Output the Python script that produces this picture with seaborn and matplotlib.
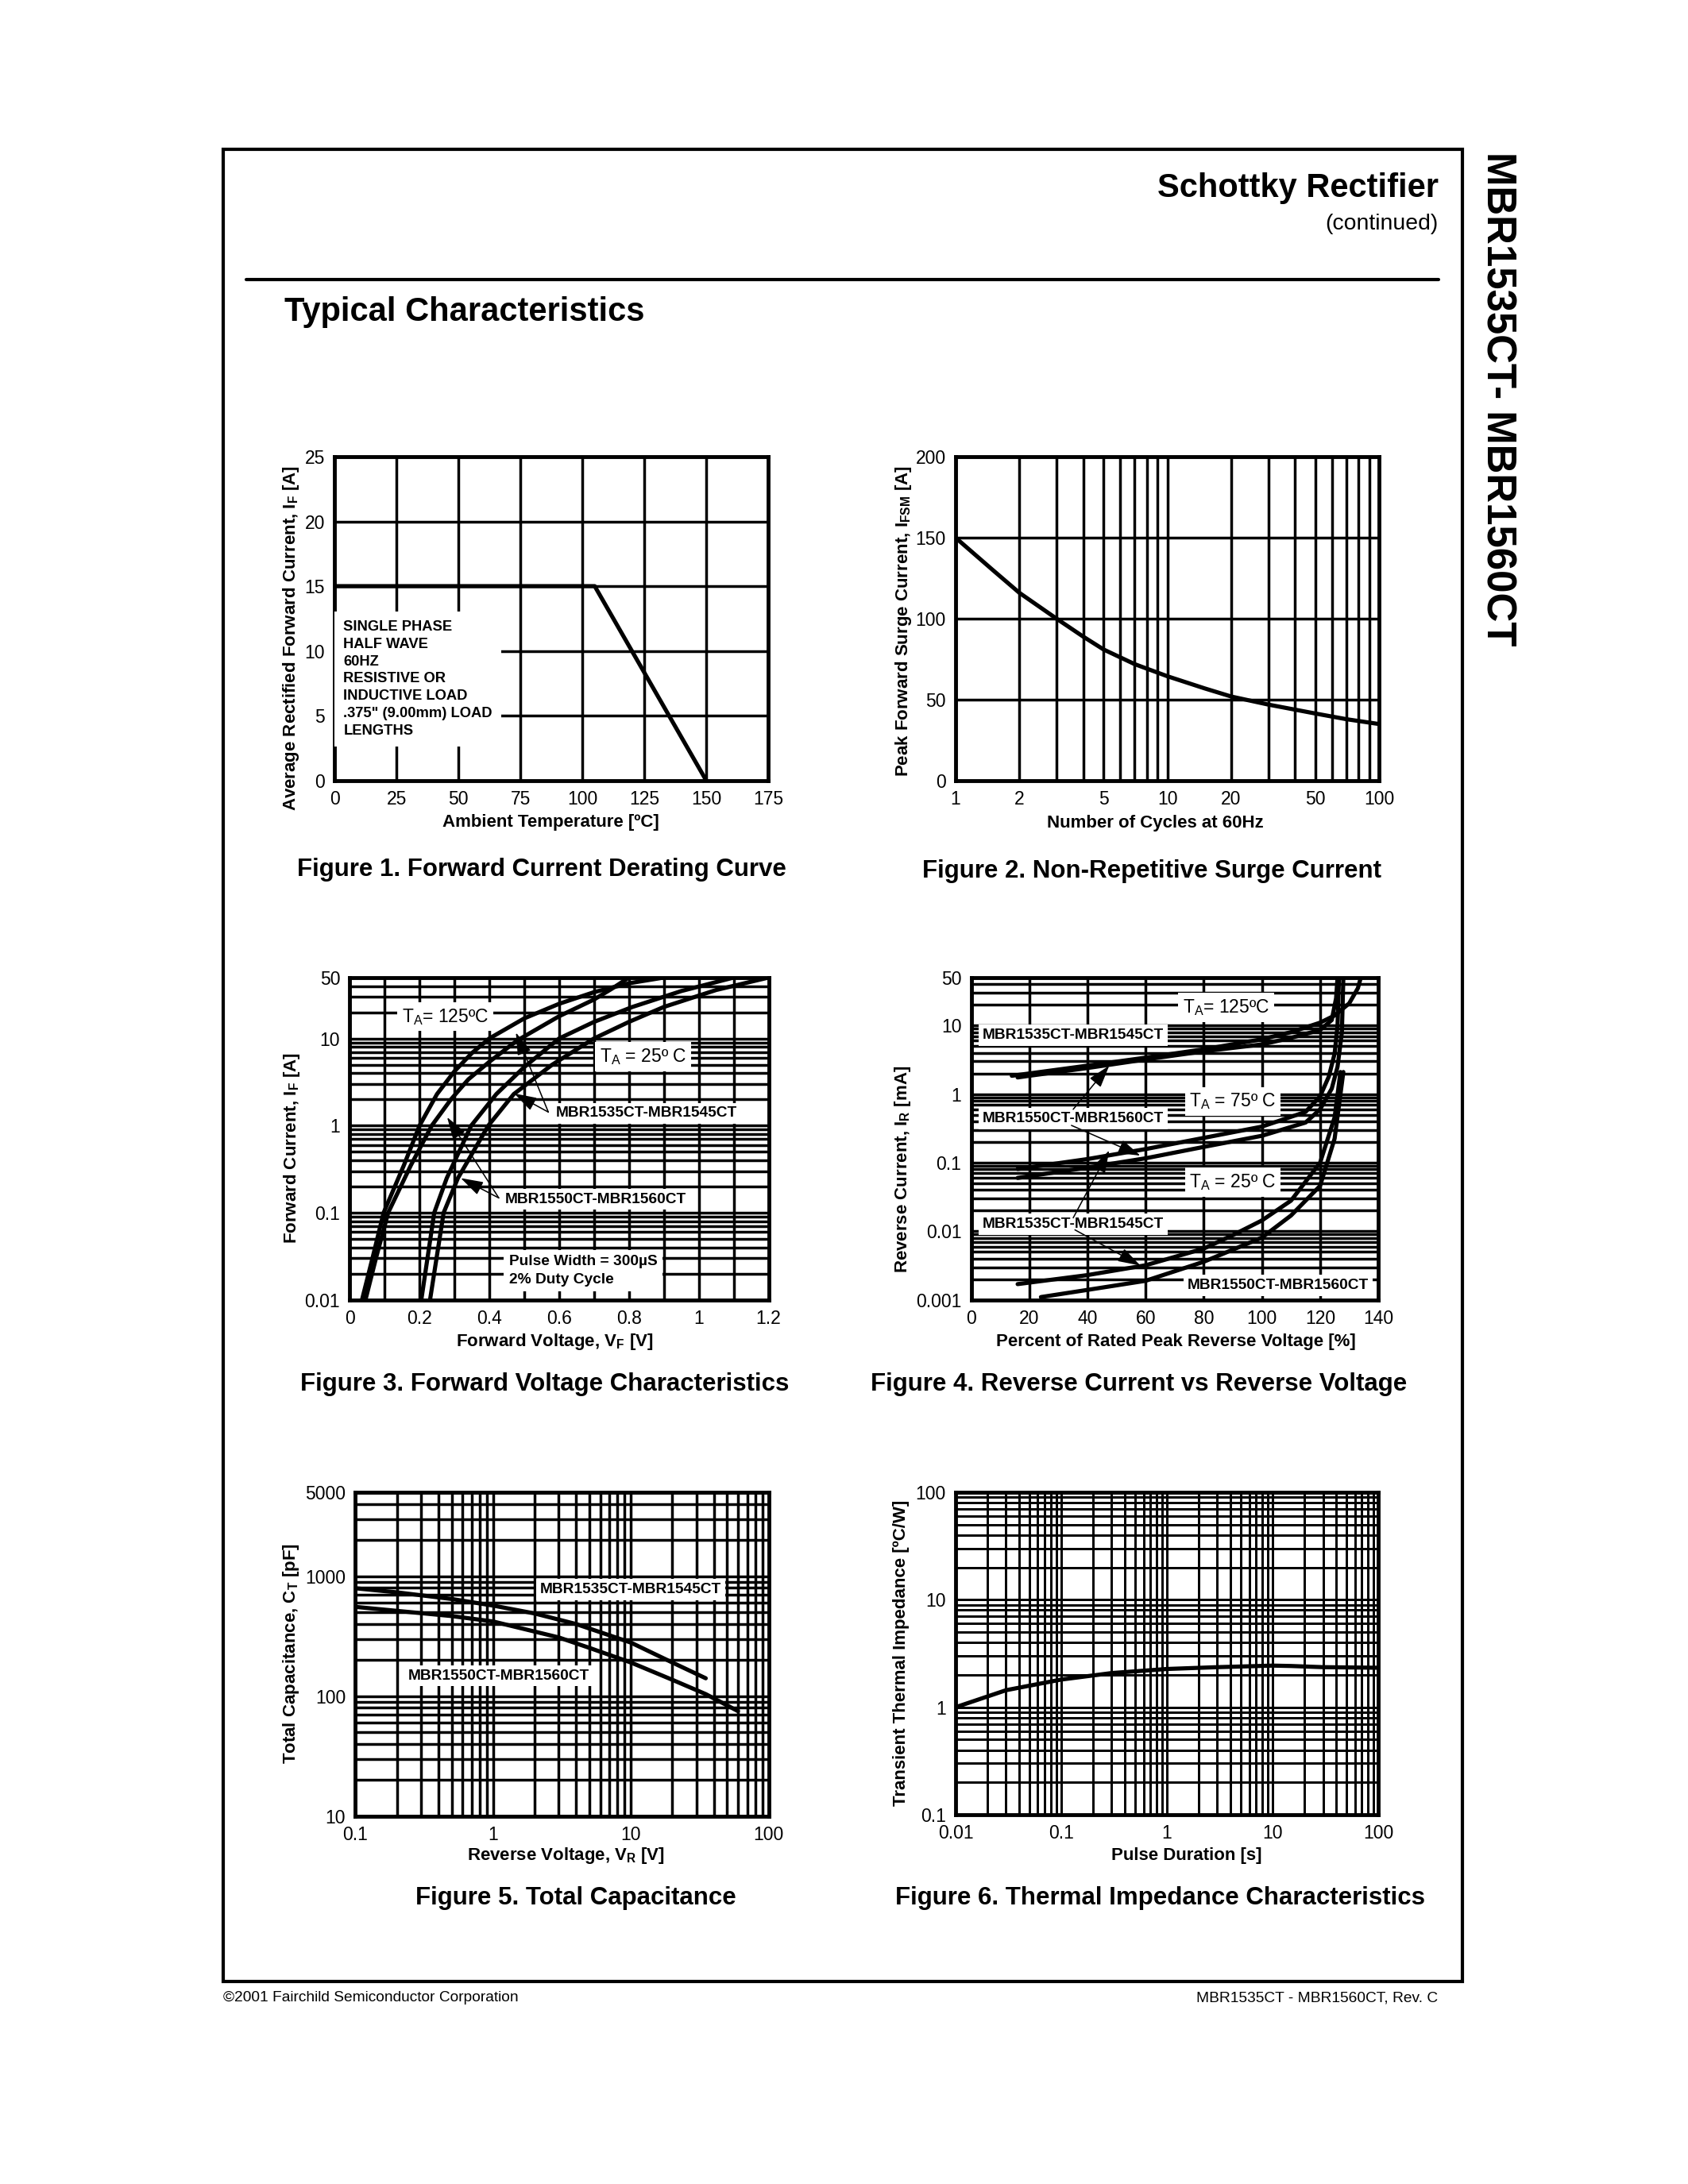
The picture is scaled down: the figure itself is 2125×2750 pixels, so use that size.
import numpy as np
import pandas as pd
import seaborn as sns
import matplotlib.pyplot as plt
from matplotlib.patches import Rectangle
from matplotlib.lines import Line2D
from matplotlib.ticker import NullFormatter

# ---- Figure 1: forward current derating
derate_temp = [0, 105, 150]
derate_amps = [15, 15, 0]

# ---- Figure 2: non-repetitive surge current
surge_cycles = [1, 1.5, 2, 3, 4, 5, 7, 10, 15, 20, 30, 50, 70, 100]
surge_amps = [150, 130, 116, 100, 89, 81, 72, 64.5, 57, 52, 47, 41.5, 38, 35]

# ---- Figure 3: forward voltage (V, A)
fv_125_a_v = [0.035, 0.065, 0.097, 0.155, 0.20, 0.25, 0.30, 0.35, 0.40, 0.50, 0.60, 0.70, 0.80, 0.90]
fv_125_a_i = [0.01, 0.03, 0.1, 0.35, 1.0, 2.3, 4.2, 6.8, 10, 17, 25, 34, 43, 50]
fv_125_b_v = [0.045, 0.075, 0.11, 0.175, 0.235, 0.29, 0.34, 0.40, 0.48, 0.60, 0.70, 0.75, 0.80]
fv_125_b_i = [0.01, 0.03, 0.1, 0.35, 1.0, 2.0, 3.4, 5.4, 9.5, 18, 28, 37, 50]
fv_25_a_v = [0.205, 0.242, 0.278, 0.348, 0.42, 0.50, 0.60, 0.70, 0.81, 0.95, 1.10]
fv_25_a_i = [0.01, 0.1, 0.25, 1.0, 2.3, 4.7, 10, 15.5, 23, 35, 50]
fv_25_b_v = [0.23, 0.269, 0.31, 0.397, 0.47, 0.58, 0.70, 0.80, 0.90, 1.05, 1.20]
fv_25_b_i = [0.01, 0.1, 0.25, 1.0, 2.3, 5.0, 10, 15.5, 23, 36, 50]

# ---- Figure 4: reverse current (% rated voltage, mA)
rc_125_a_x = [14, 20, 40, 60, 80, 100, 110, 120, 125, 130, 133, 134]
rc_125_a_y = [1.85, 2.0, 2.6, 3.4, 4.5, 6.3, 8.0, 11, 14, 21, 35, 50]
rc_125_b_x = [16, 20, 40, 60, 80, 100, 110, 120, 124, 125.5, 126]
rc_125_b_y = [1.75, 1.85, 2.4, 3.2, 4.2, 5.3, 6.6, 8.6, 12, 25, 50]
rc_75_a_x = [16, 40, 60, 80, 100, 115, 120, 123, 125, 126, 126.5]
rc_75_a_y = [0.081, 0.113, 0.158, 0.23, 0.336, 0.55, 0.93, 1.8, 3.9, 10, 50]
rc_75_b_x = [16, 40, 60, 80, 100, 115, 120, 124, 126, 127.5, 128]
rc_75_b_y = [0.06, 0.085, 0.116, 0.17, 0.247, 0.385, 0.6, 1.2, 2.5, 8, 50]
rc_25_a_x = [16, 40, 60, 80, 90, 100, 110, 120, 125, 127]
rc_25_a_y = [0.0017, 0.0023, 0.0032, 0.0056, 0.0088, 0.0144, 0.028, 0.10, 0.46, 2.1]
rc_25_b_x = [24, 40, 60, 80, 100, 110, 120, 125, 128]
rc_25_b_y = [0.0011, 0.0014, 0.0019, 0.0036, 0.0081, 0.017, 0.046, 0.225, 2.1]

# ---- Figure 5: total capacitance (V, pF)
cap_a_v = [0.1, 0.2, 0.5, 1, 2, 4, 10, 20, 35]
cap_a_pf = [795, 735, 647, 570, 490, 400, 280, 191, 141]
cap_b_v = [0.1, 0.2, 0.5, 1, 3, 5, 10, 20, 35, 60]
cap_b_pf = [556, 515, 466, 420, 309, 253, 191, 137, 104, 75]

# ---- Figure 6: transient thermal impedance (s, C/W)
zth_t = [0.01, 0.03, 0.1, 0.3, 1, 3, 10, 15, 30, 100]
zth_z = [1.0, 1.44, 1.81, 2.08, 2.27, 2.36, 2.44, 2.42, 2.36, 2.33]

captions = [
    "Figure 1. Forward Current Derating Curve",
    "Figure 2. Non-Repetitive Surge Current",
    "Figure 3. Forward Voltage Characteristics",
    "Figure 4. Reverse Current vs Reverse Voltage",
    "Figure 5. Total Capacitance",
    "Figure 6. Thermal Impedance Characteristics",
]

sns.set_style("white", rc={"axes.edgecolor": "black", "text.color": "black",
                           "axes.labelcolor": "black", "xtick.color": "black",
                           "ytick.color": "black"})
plt.rcParams["font.family"] = ["Liberation Sans", "DejaVu Sans"]
plt.rcParams["mathtext.fontset"] = "custom"
plt.rcParams["mathtext.rm"] = "Liberation Sans"
plt.rcParams["mathtext.bf"] = "Liberation Sans:bold"
plt.rcParams["mathtext.it"] = "Liberation Sans:italic"

fig = plt.figure(figsize=(8.5, 11), dpi=250)

TICK_FS = 6.6
LABEL_FS = 6.4
NOTE_FS = 5.5
box = dict(boxstyle="square,pad=0.25", fc="white", ec="none")
arrow = dict(arrowstyle="-|>,head_length=0.7,head_width=0.22", color="black",
             lw=0.45, shrinkA=0, shrinkB=0, mutation_scale=10)


def setup(ax, xlim, ylim, xmaj, xlab, ymaj, ylab, xmin=None, ymin=None,
          xlog=False, ylog=False, grid_lw=1.0):
    if xlog:
        ax.set_xscale("log")
    if ylog:
        ax.set_yscale("log")
    ax.set_xlim(*xlim)
    ax.set_ylim(*ylim)
    ax.set_xticks(xmaj, labels=xlab)
    ax.set_yticks(ymaj, labels=ylab)
    ax.set_xticks(xmin if xmin else [], minor=True)
    ax.set_yticks(ymin if ymin else [], minor=True)
    ax.xaxis.set_minor_formatter(NullFormatter())
    ax.yaxis.set_minor_formatter(NullFormatter())
    ax.set_xlim(*xlim)
    ax.set_ylim(*ylim)
    ax.tick_params(which="both", length=0, pad=3.5, labelsize=TICK_FS)
    ax.grid(True, which="both", color="black", lw=grid_lw)
    ax.set_axisbelow(True)
    for s in ax.spines.values():
        s.set_linewidth(1.4)
        s.set_color("black")


def labels(ax, xl, yl, xpos, ypos):
    ax.set_xlabel(xl, fontsize=LABEL_FS, fontweight="bold", va="center")
    ax.set_ylabel(yl, fontsize=LABEL_FS, fontweight="bold", va="center", ha="center")
    ax.xaxis.set_label_coords(*xpos)
    ax.yaxis.set_label_coords(*ypos)


def curve(ax, x, y, lw=1.5):
    sns.lineplot(x=x, y=y, ax=ax, color="black", linewidth=lw,
                 estimator=None, sort=False, zorder=4)


def decade_minor(lo_exp, hi_exp, top=None):
    vals = []
    for e in range(lo_exp, hi_exp):
        for m in range(2, 10):
            v = m * 10.0 ** e
            if top is None or v < top:
                vals.append(v)
    return vals


# ---------------- Figure 1
ax1 = fig.add_axes([0.1983, 0.6427, 0.2567, 0.1482])
setup(ax1, (0, 175), (0, 25), list(range(0, 176, 25)),
      [str(v) for v in range(0, 176, 25)], list(range(0, 26, 5)),
      [str(v) for v in range(0, 26, 5)])
curve(ax1, derate_temp, derate_amps, lw=1.5)
ax1.text(3.5, 7.83, "SINGLE PHASE\nHALF WAVE\n60HZ\nRESISTIVE OR\nINDUCTIVE LOAD\n"
         ".375\" (9.00mm) LOAD\nLENGTHS", ha="left", va="center", fontsize=5.3,
         fontweight="bold", linespacing=1.37,
         bbox=dict(boxstyle="square,pad=0.6", fc="white", ec="none"))
labels(ax1, "Ambient Temperature [ºC]",
       r"Average Rectified Forward Current, I$\mathbf{_F}$ [A]",
       (0.498, -0.131), (-0.0998, 0.44))

# ---------------- Figure 2
ax2 = fig.add_axes([0.5661, 0.6425, 0.2510, 0.1484])
setup(ax2, (1, 100), (0, 200), [1, 2, 5, 10, 20, 50, 100],
      ["1", "2", "5", "10", "20", "50", "100"], [0, 50, 100, 150, 200],
      ["0", "50", "100", "150", "200"],
      xmin=[3, 4, 6, 7, 8, 9, 30, 40, 60, 70, 80, 90], xlog=True)
curve(ax2, surge_cycles, surge_amps, lw=1.5)
labels(ax2, "Number of Cycles at 60Hz",
       r"Peak Forward Surge Current, I$\mathbf{_{FSM}}$ [A]",
       (0.472, -0.13), (-0.122, 0.493))

# ---------------- Figure 3
ax3 = fig.add_axes([0.2072, 0.4048, 0.2481, 0.1476])
setup(ax3, (0, 1.2), (0.01, 50), [0, 0.2, 0.4, 0.6, 0.8, 1.0, 1.2],
      ["0", "0.2", "0.4", "0.6", "0.8", "1", "1.2"],
      [0.01, 0.1, 1, 10, 50], ["0.01", "0.1", "1", "10", "50"],
      xmin=[0.1, 0.3, 0.5, 0.7, 0.9, 1.1],
      ymin=decade_minor(-2, 1) + [20, 30, 40], ylog=True)
curve(ax3, fv_125_a_v, fv_125_a_i)
curve(ax3, fv_125_b_v, fv_125_b_i)
curve(ax3, fv_25_a_v, fv_25_a_i)
curve(ax3, fv_25_b_v, fv_25_b_i)
ax3.text(0.274, 17.8, r"$\mathrm{T_A}$= 125ºC", ha="center", va="center",
         fontsize=TICK_FS, bbox=box)
ax3.text(0.84, 6.2, r"$\mathrm{T_A}$ = 25º C", ha="center", va="center",
         fontsize=TICK_FS, bbox=box)
ax3.text(0.85, 1.38, "MBR1535CT-MBR1545CT", ha="center", va="center",
         fontsize=NOTE_FS, fontweight="bold", bbox=box)
ax3.text(0.705, 0.143, "MBR1550CT-MBR1560CT", ha="center", va="center",
         fontsize=NOTE_FS, fontweight="bold", bbox=box)
ax3.annotate("", xy=(0.476, 11.7), xytext=(0.569, 1.43), arrowprops=arrow)
ax3.annotate("", xy=(0.471, 2.34), xytext=(0.569, 1.43), arrowprops=arrow)
ax3.annotate("", xy=(0.279, 1.25), xytext=(0.427, 0.148), arrowprops=arrow)
ax3.annotate("", xy=(0.318, 0.25), xytext=(0.427, 0.148), arrowprops=arrow)
ax3.text(0.456, 0.0216, "Pulse Width = 300µS\n2% Duty Cycle", ha="left",
         va="center", fontsize=NOTE_FS, fontweight="bold", linespacing=1.4,
         bbox=dict(boxstyle="square,pad=0.35", fc="white", ec="none"))
labels(ax3, r"Forward Voltage, V$\mathbf{_F}$ [V]",
       r"Forward Current, I$\mathbf{_F}$ [A]", (0.489, -0.131), (-0.139, 0.472))

# ---------------- Figure 4
ax4 = fig.add_axes([0.5753, 0.4048, 0.2412, 0.1476])
setup(ax4, (0, 140), (0.001, 50), list(range(0, 141, 20)),
      [str(v) for v in range(0, 141, 20)],
      [0.001, 0.01, 0.1, 1, 10, 50], ["0.001", "0.01", "0.1", "1", "10", "50"],
      ymin=decade_minor(-3, 1) + [20, 30, 40], ylog=True)
curve(ax4, rc_125_a_x, rc_125_a_y)
curve(ax4, rc_125_b_x, rc_125_b_y)
curve(ax4, rc_75_a_x, rc_75_a_y)
curve(ax4, rc_75_b_x, rc_75_b_y)
curve(ax4, rc_25_a_x, rc_25_a_y)
curve(ax4, rc_25_b_x, rc_25_b_y)
ax4.text(87.7, 18.3, r"$\mathrm{T_A}$= 125ºC", ha="center", va="center",
         fontsize=TICK_FS, bbox=box)
ax4.text(90, 0.78, r"$\mathrm{T_A}$ = 75º C", ha="center", va="center",
         fontsize=TICK_FS, bbox=box)
ax4.text(90, 0.052, r"$\mathrm{T_A}$ = 25º C", ha="center", va="center",
         fontsize=TICK_FS, bbox=box)
ax4.text(35.1, 7.2, "MBR1535CT-MBR1545CT", ha="center", va="center",
         fontsize=NOTE_FS, fontweight="bold", bbox=box)
ax4.text(35.1, 0.44, "MBR1550CT-MBR1560CT", ha="center", va="center",
         fontsize=NOTE_FS, fontweight="bold", bbox=box)
ax4.text(35.1, 0.0126, "MBR1535CT-MBR1545CT", ha="center", va="center",
         fontsize=NOTE_FS, fontweight="bold", bbox=box)
ax4.text(105.5, 0.00163, "MBR1550CT-MBR1560CT", ha="center", va="center",
         fontsize=NOTE_FS, fontweight="bold", bbox=box)
ax4.annotate("", xy=(47.5, 2.6), xytext=(35.1, 0.6), arrowprops=arrow)
ax4.annotate("", xy=(58.2, 0.127), xytext=(34.5, 0.35), arrowprops=arrow)
ax4.annotate("", xy=(47.5, 0.151), xytext=(35.1, 0.0157), arrowprops=arrow)
ax4.annotate("", xy=(58.2, 0.00317), xytext=(35.7, 0.0105), arrowprops=arrow)
labels(ax4, "Percent of Rated Peak Reverse Voltage [%]",
       r"Reverse Current, I$\mathbf{_R}$ [mA]", (0.504, -0.131), (-0.167, 0.406))

# ---------------- Figure 5
ax5 = fig.add_axes([0.2105, 0.1685, 0.2448, 0.1481])
setup(ax5, (0.1, 100), (10, 5000), [0.1, 1, 10, 100], ["0.1", "1", "10", "100"],
      [10, 100, 1000, 5000], ["10", "100", "1000", "5000"],
      xmin=decade_minor(-1, 2), ymin=decade_minor(1, 4, top=5000),
      xlog=True, ylog=True)
curve(ax5, cap_a_v, cap_a_pf)
curve(ax5, cap_b_v, cap_b_pf)
ax5.text(10, 775, "MBR1535CT-MBR1545CT", ha="center", va="center",
         fontsize=NOTE_FS, fontweight="bold", bbox=box)
ax5.text(1.1, 148, "MBR1550CT-MBR1560CT", ha="center", va="center",
         fontsize=NOTE_FS, fontweight="bold", bbox=box)
labels(ax5, r"Reverse Voltage, V$\mathbf{_R}$ [V]",
       r"Total Capacitance, C$\mathbf{_T}$ [pF]", (0.509, -0.123), (-0.155, 0.502))

# ---------------- Figure 6
ax6 = fig.add_axes([0.5661, 0.1691, 0.2504, 0.1476])
setup(ax6, (0.01, 100), (0.1, 100), [0.01, 0.1, 1, 10, 100],
      ["0.01", "0.1", "1", "10", "100"], [0.1, 1, 10, 100],
      ["0.1", "1", "10", "100"], xmin=decade_minor(-2, 2),
      ymin=decade_minor(-1, 2), xlog=True, ylog=True, grid_lw=0.85)
curve(ax6, zth_t, zth_z)
labels(ax6, "Pulse Duration [s]", "Transient Thermal Impedance [ºC/W]",
       (0.547, -0.128), (-0.128, 0.502))

# ---------------- captions
cap_pos = [(0.3209, 0.602), (0.6824, 0.6012), (0.3228, 0.3662),
           (0.6748, 0.3662), (0.3412, 0.1309), (0.6875, 0.1309)]
for (cx, cy), txt in zip(cap_pos, captions):
    fig.text(cx, cy, txt, ha="center", va="center", fontsize=9, fontweight="bold")

# ---------------- page furniture
fig.add_artist(Rectangle((0.1322, 0.0927), 0.8664 - 0.1322, 0.9316 - 0.0927,
                         transform=fig.transFigure, fill=False, lw=1.2, ec="black"))
fig.add_artist(Line2D([0.1459, 0.8522], [0.872, 0.872], transform=fig.transFigure,
                      lw=1.2, color="black"))
fig.text(0.8522, 0.9138, "Schottky Rectifier", ha="right", va="center",
         fontsize=12, fontweight="bold")
fig.text(0.8522, 0.8974, "(continued)", ha="right", va="center", fontsize=8.2)
fig.text(0.1685, 0.857, "Typical Characteristics", ha="left", va="center",
         fontsize=12, fontweight="bold")
fig.text(0.887, 0.8175, "MBR1535CT- MBR1560CT", ha="center", va="center",
         rotation=-90, fontsize=14.7, fontweight="bold")
fig.text(0.1322, 0.0851, "©2001 Fairchild Semiconductor Corporation",
         ha="left", va="center", fontsize=5.5)
fig.text(0.8516, 0.0851, "MBR1535CT - MBR1560CT, Rev. C", ha="right",
         va="center", fontsize=5.5)

fig.savefig("out.png", dpi=250, facecolor="white")
